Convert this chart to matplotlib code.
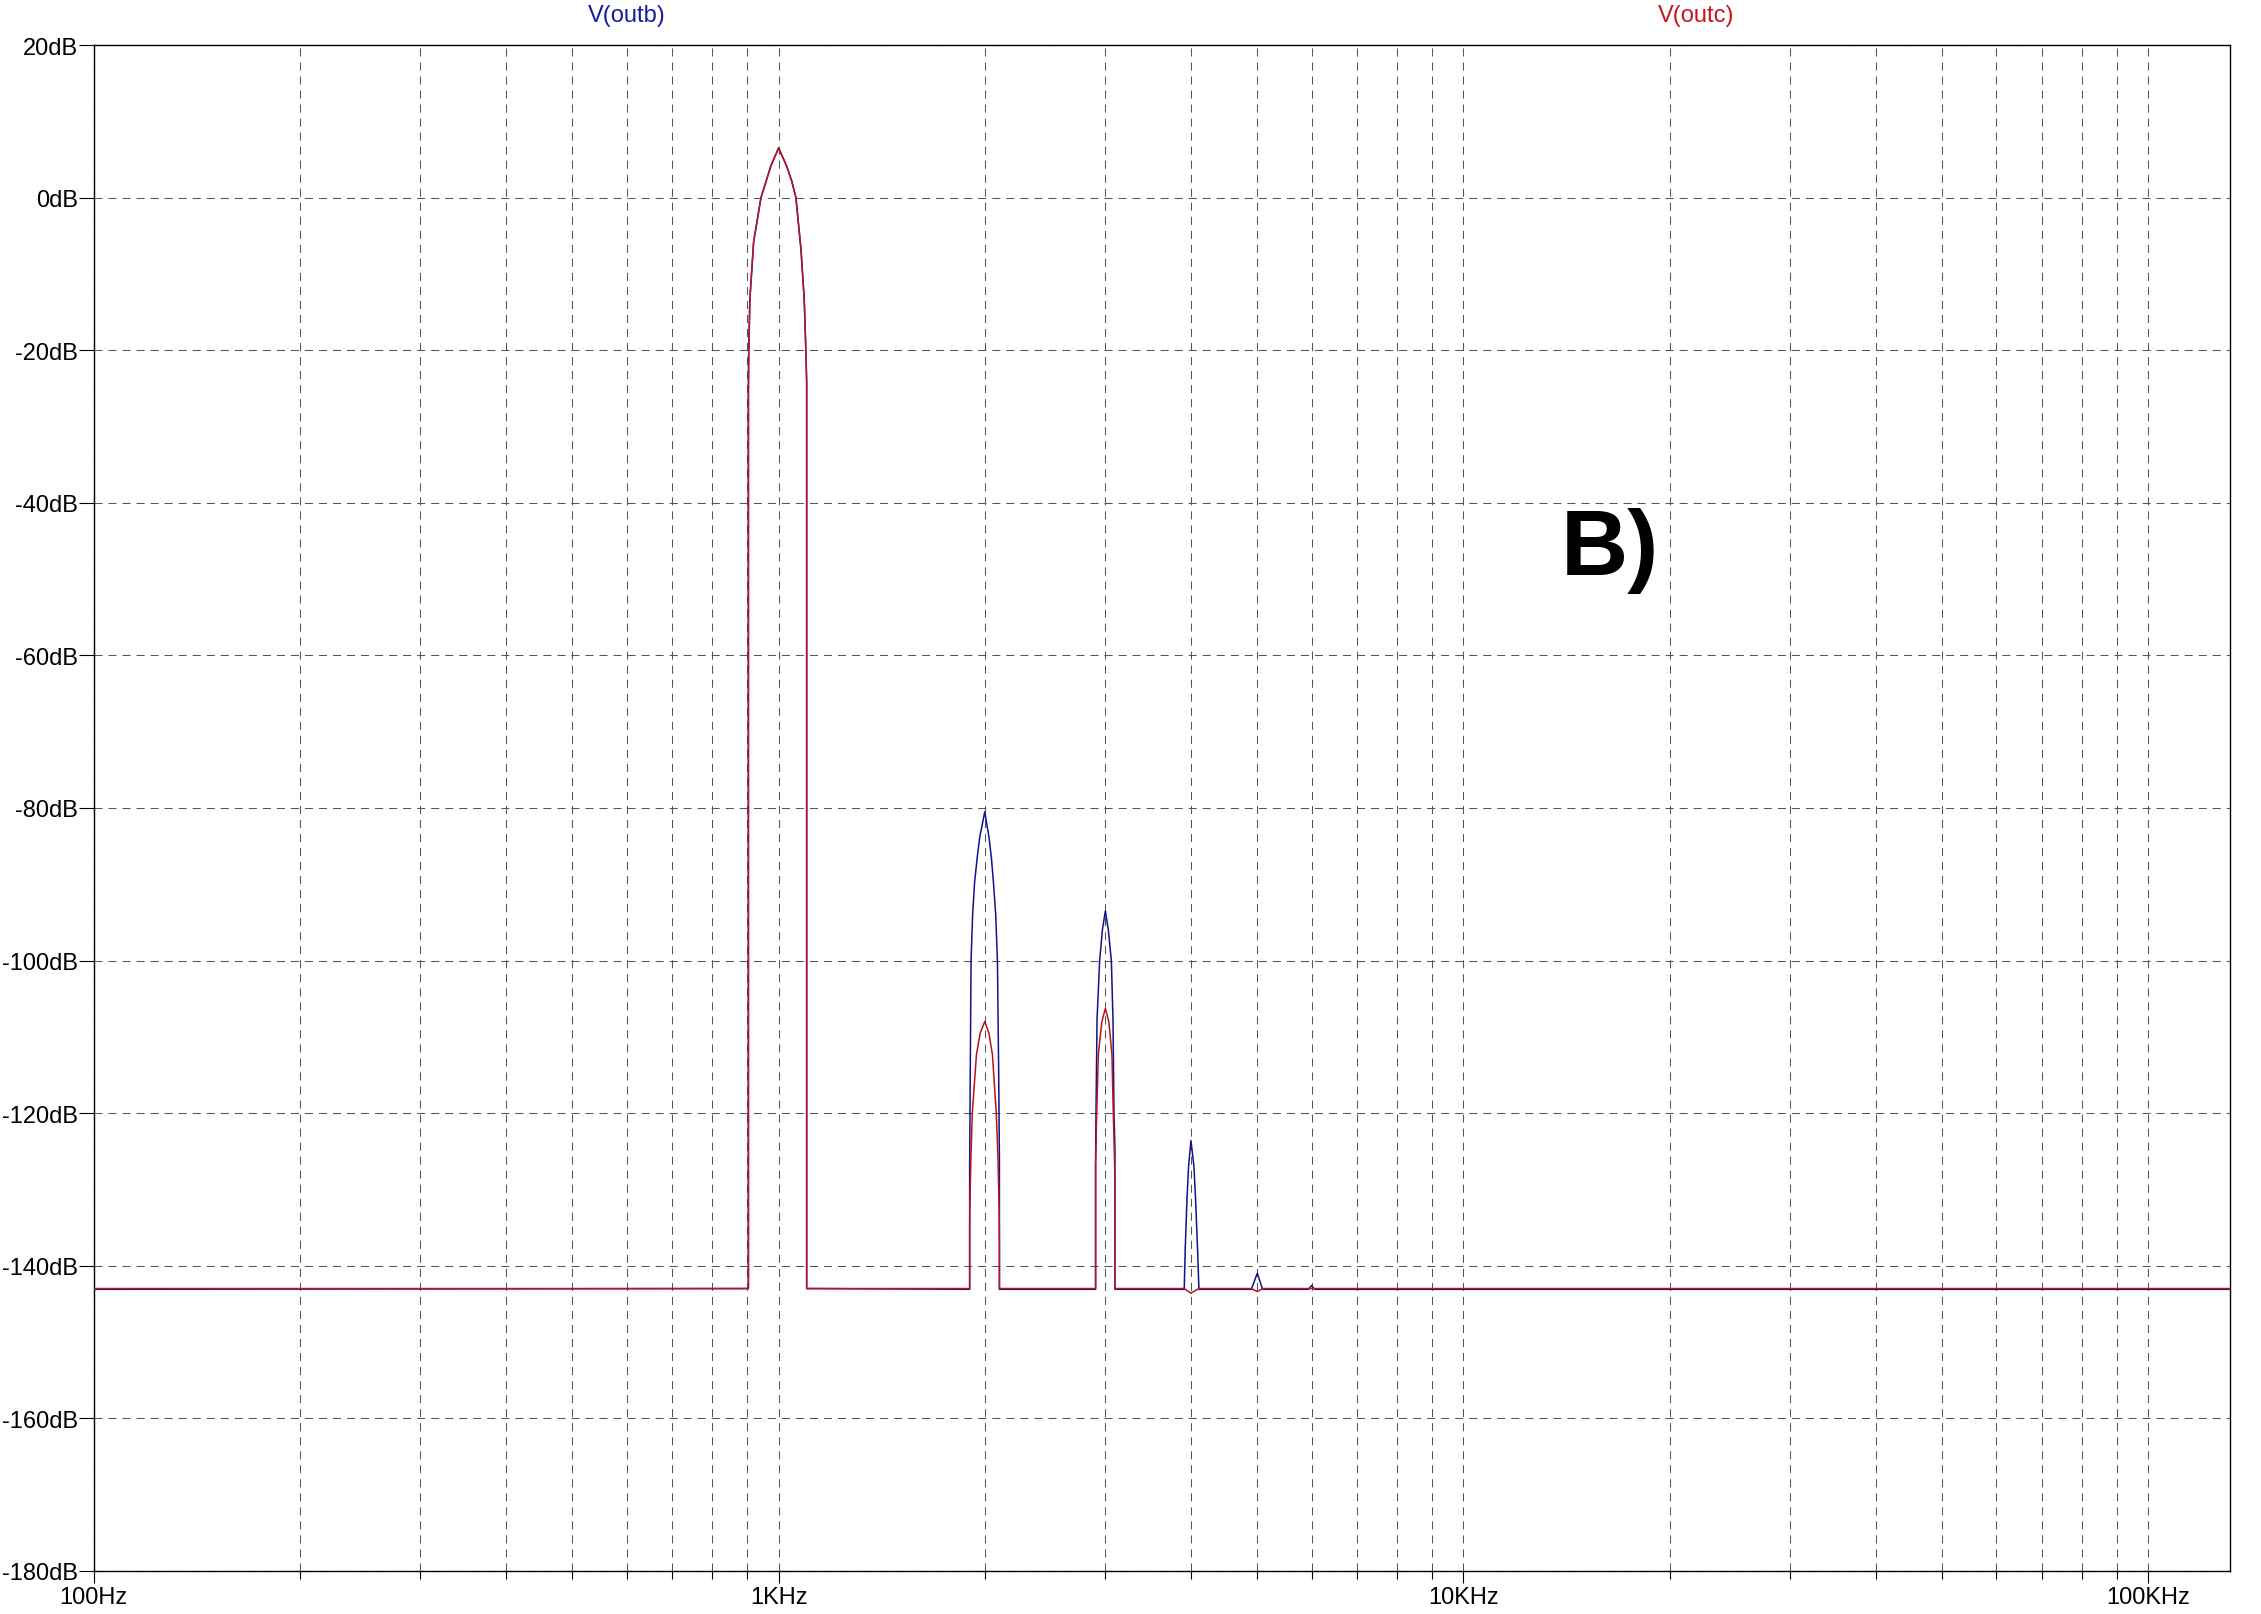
"""
Spectrum of V(outb) / V(outc) -- FFT view, panel B).
"""
import matplotlib
matplotlib.use("Agg")
import matplotlib.pyplot as plt
from matplotlib.ticker import FixedLocator, LogLocator, NullFormatter

plt.rcParams["font.family"] = ["Liberation Sans", "DejaVu Sans"]
plt.rcParams["lines.scale_dashes"] = False

FREQ_MIN = 100
FREQ_MAX = 131400
NOISE_B = -143.1
NOISE_C = -143.0

# fundamental at 1 kHz, same on both traces
FUND_FREQ = [903.5, 903.5, 904.5, 908, 919.5, 942.5, 960, 974.7, 1000, 1027, 1045, 1060, 1078, 1090, 1096, 1099, 1099]
FUND_DB = [-143, -25.4, -20, -13.3, -5.8, 0, 2.3, 4.2, 6.5, 4.2, 2.2, 0, -6.7, -13.3, -20, -24.2, -143]

# V(outb) harmonics
B_H2_FREQ = [1901, 1901, 1904, 1910, 1920, 1933, 1950, 1966, 2000, 2029, 2045, 2059, 2075, 2087, 2096, 2101, 2101]
B_H2_DB = [-143.1, -127, -117, -100, -94, -89.7, -86.5, -83.9, -80.5, -83.9, -86.5, -89.7, -94, -100, -115, -126, -143.1]
B_H3_FREQ = [2903, 2903, 2907, 2917, 2943, 2970, 3000, 3030, 3061, 3078, 3088, 3098, 3098]
B_H3_DB = [-143.1, -127, -120, -107.8, -100, -96, -93.5, -96, -100, -107.8, -120, -124.5, -143.1]
B_H4_FREQ = [3911, 3924, 3947, 3969, 4000, 4040, 4063, 4090, 4109]
B_H4_DB = [-143.1, -137.8, -131.3, -126.9, -123.6, -126.9, -131.3, -137.8, -143.1]
B_H5_FREQ = [4900, 5000, 5090]
B_H5_DB = [-143.1, -141.0, -143.1]
B_H6_FREQ = [5940, 6000, 6060]
B_H6_DB = [-143.1, -142.6, -143.1]

# V(outc) harmonics
C_H2_FREQ = [1901, 1901, 1902, 1909, 1918, 1945, 1970, 2000, 2028, 2052, 2079, 2091, 2099, 2101, 2101]
C_H2_DB = [-143, -135, -132.6, -125.9, -120, -112.3, -109.5, -108, -109.5, -112.3, -120, -125.9, -132.6, -137, -143]
C_H3_FREQ = [2903, 2903, 2914, 2930, 2965, 3000, 3035, 3067, 3081, 3095, 3098, 3098]
C_H3_DB = [-143, -126.8, -120, -112.3, -108, -106.3, -108, -112.3, -120, -126.8, -130, -143]
C_H4_FREQ = [3911, 4000, 4109]
C_H4_DB = [-143, -143.6, -143]
C_H5_FREQ = [4900, 5000, 5090]
C_H5_DB = [-143, -143.4, -143]

Y_TICKS = list(range(-180, 21, 20))
Y_LABELS = [f"{v}dB" for v in Y_TICKS]
X_TICKS = [100, 1000, 10000, 100000]
X_LABELS = ["100Hz", "1KHz", "10KHz", "100KHz"]

BLUE = "#12128c"
RED = "#b8141e"
GRID = "#555555"
FS = 17


def build(noise, parts):
    f = [FREQ_MIN]
    d = [noise]
    for pf, pd in parts:
        f += pf
        d += pd
    f.append(FREQ_MAX)
    d.append(noise)
    return f, d


def main():
    outb_f, outb_db = build(NOISE_B, [(FUND_FREQ, FUND_DB), (B_H2_FREQ, B_H2_DB), (B_H3_FREQ, B_H3_DB),
                                      (B_H4_FREQ, B_H4_DB), (B_H5_FREQ, B_H5_DB), (B_H6_FREQ, B_H6_DB)])
    outc_f, outc_db = build(NOISE_C, [(FUND_FREQ, FUND_DB), (C_H2_FREQ, C_H2_DB), (C_H3_FREQ, C_H3_DB),
                                      (C_H4_FREQ, C_H4_DB), (C_H5_FREQ, C_H5_DB)])

    fig = plt.figure(figsize=(22.61, 16.15), dpi=100)
    ax = fig.add_axes([0.04144, 0.02675, 0.94467, 0.94471])

    ax.plot(outb_f, outb_db, color=BLUE, lw=1.1, zorder=3)
    ax.plot(outc_f, outc_db, color=RED, lw=1.1, zorder=4)

    ax.set_xscale("log")
    ax.set_xlim(FREQ_MIN, FREQ_MAX)
    ax.set_ylim(-180, 20)

    ax.xaxis.set_major_locator(FixedLocator(X_TICKS))
    ax.set_xticklabels(X_LABELS)
    ax.xaxis.set_minor_locator(LogLocator(base=10, subs=range(2, 10)))
    ax.xaxis.set_minor_formatter(NullFormatter())
    ax.set_yticks(Y_TICKS)
    ax.set_yticklabels(Y_LABELS)

    ax.tick_params(axis="x", which="major", length=8.6, width=0.8, pad=2.5, labelsize=FS)
    ax.tick_params(axis="x", which="minor", length=5.5, width=0.8)
    ax.tick_params(axis="y", which="major", length=10.8, width=0.8, pad=0.5, labelsize=FS)

    dash = (0, (5.8, 4.3))
    ax.grid(True, axis="x", which="both", color=GRID, lw=0.75, linestyle=dash)
    ax.grid(True, axis="y", which="major", color=GRID, lw=0.75, linestyle=dash)
    for s in ax.spines.values():
        s.set_linewidth(1.0)
        s.set_color("black")

    fig.text(0.2773, 0.98656, "V(outb)", color="#1a1aa0", fontsize=FS, ha="center", va="baseline")
    fig.text(0.7501, 0.98656, "V(outc)", color="#c8141e", fontsize=FS, ha="center", va="baseline")
    fig.text(0.6904, 0.644, "B)", fontsize=67, fontweight="bold", ha="left", va="baseline")

    fig.savefig("out.png", dpi=100)
    plt.close(fig)


if __name__ == "__main__":
    main()
